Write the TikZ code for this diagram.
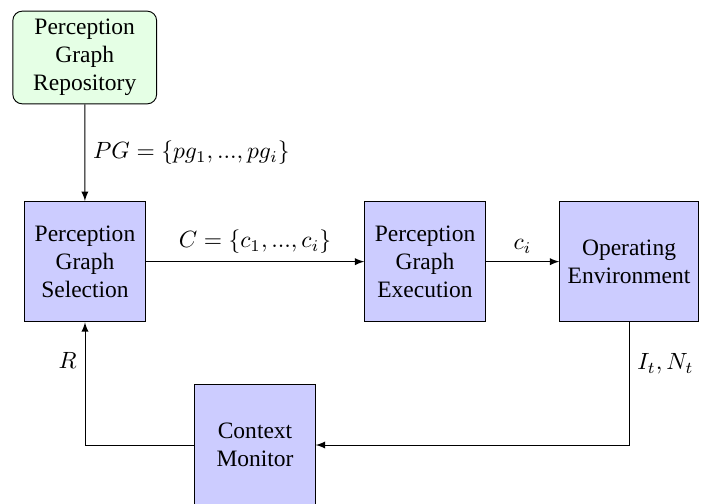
\documentclass[tikz,border=0pt]{standalone}
\usepackage{fontspec}
\setmainfont{Liberation Serif}
\usepackage{amsmath}
\tikzset{
  pgblock/.style = {draw, fill=blue!20, minimum width=1.8cm, minimum height=1.8cm, align=center},
  pgrepo/.style  = {draw, fill=green!10, rounded corners, minimum width=2.15cm, align=center},
  pgflow/.style  = {->, >=latex},
}

\begin{document}
\begin{tikzpicture}
\useasboundingbox (0,0) rectangle (10.633,7.537);
\node[pgrepo]  (repo) at (1.267,6.677) {Perception\\Graph\\Repository};
\node[pgblock] (sel)  at (1.271,3.624) {Perception\\Graph\\Selection};
\node[pgblock] (exec) at (6.356,3.624) {Perception\\Graph\\Execution};
\node[pgblock] (env)  at (9.407,3.624) {Operating\\Environment};
\node[pgblock] (mon)  at (3.814,0.882) {Context\\Monitor};

\draw[pgflow] (repo) -- node[right] {$PG = \{pg_1, ..., pg_i\}$} (sel);
\draw[pgflow] (sel) -- node[above] {$C = \{c_1, ..., c_i\}$} (exec);
\draw[pgflow] (exec) -- node[above] {$c_i$} (env);
\draw[pgflow] (env.south) |- node[pos=0.17, right] {$I_t, N_t$} (mon.east);
\draw[pgflow] (mon.west) -| node[pos=0.845, left] {$R$} (sel.south);
\end{tikzpicture}
\end{document}
